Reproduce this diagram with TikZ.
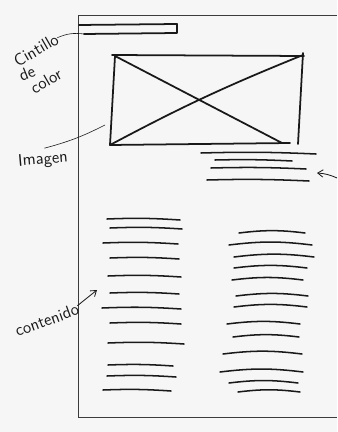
\documentclass[tikz,border=0pt]{standalone}
\usepackage{tikz}
\usetikzlibrary{arrows.meta,positioning,calc}
\definecolor{paper}{RGB}{246,246,246}
\definecolor{ink}{RGB}{25,25,25}

\begin{document}
\begin{tikzpicture}[
  x=0.03cm, y=-0.03cm,
  frame/.style={draw=ink!85, line width=0.6pt},
  thickline/.style={draw=ink, line width=1.5pt, line cap=round, line join=round},
  textline/.style={draw=ink, line width=1.3pt, line cap=round},
  note/.style={font=\sffamily\Large, text=ink, inner sep=0pt},
  lead/.style={draw=ink, line width=0.5pt},
  arr/.style={-{Straight Barb[length=1.6mm,width=2.2mm]}, draw=ink, line width=0.7pt}
]
\fill[paper] (0,0) rectangle (337,432);
\useasboundingbox (0,0) rectangle (337,432);

% page frame
\draw[frame] (337,15) -- (78,15) -- (78,417) -- (337,417);

% cintillo de color
\coordinate (stripend) at (84,34);
\draw[thickline] (79,25) -- (177,24) -- (177,33) -- (stripend);

% imagen
\coordinate (tl) at (115,56);
\coordinate (tr) at (303,55);
\coordinate (br) at (298,144);
\coordinate (bl) at (110,145);
\draw[thickline] (112,55) -- (304,56);
\draw[thickline] (303,53) -- (br);
\draw[thickline] (bl) -- (290,143);
\draw[thickline] (tl) -- (bl);
\draw[thickline] (tl) -- (282,143);
\draw[thickline] (bl) to[bend left=3] (tr);

% titulo
\foreach \xa/\xb/\yy in {201/316/153, 215/292/160, 211/306/168, 207/309/180}
  \draw[textline] (\xa,\yy) to[bend left=2] (\xb,\yy+1);

% columna izquierda
\foreach \xa/\xb/\yy in {107/180/219, 110/182/228, 103/178/243, 110/179/258,
    108/181/276, 110/179/293, 102/181/308, 110/181/323, 108/184/343,
    108/173/365, 107/176/376, 103/171/390}
  \draw[textline] (\xa,\yy) to[bend left=3] (\xb,\yy+1);

% columna derecha
\foreach \xa/\xb/\yy in {239/305/233, 229/312/245, 234/314/257, 234/307/268,
    232/303/280, 236/308/296, 234/307/307, 227/300/324, 233/299/337,
    223/302/354, 220/303/372, 229/298/383, 238/300/392}
  \draw[textline] (\xa,\yy) to[bend left=7] (\xb,\yy);

% etiquetas
\node[note, rotate=30] (cintillo) at (36,50) {Cintillo};
\node[note, rotate=22] (de) at (27,73) {de};
\node[note, rotate=30] (color) at (46,81) {color};
\node[note, rotate=5] (imagen) at (43,160) {Imagen};
\node[note, rotate=20] (contenido) at (47,320) {contenido};

\coordinate (imgleft) at (105,125);
\coordinate (colleft) at (97,290);
\coordinate (tituloarr) at (317,173);
\coordinate (rightedge) at (337,178);

\draw[lead] (cintillo.east) to[bend left=15] (stripend);
\draw[lead] (imagen.north) ++(2,-4) to[bend right=6] (imgleft);
\draw[arr] (contenido.north east) ++(1,3) -- (colleft);
\draw[arr] (rightedge) to[bend right=10] (tituloarr);
\end{tikzpicture}
\end{document}
